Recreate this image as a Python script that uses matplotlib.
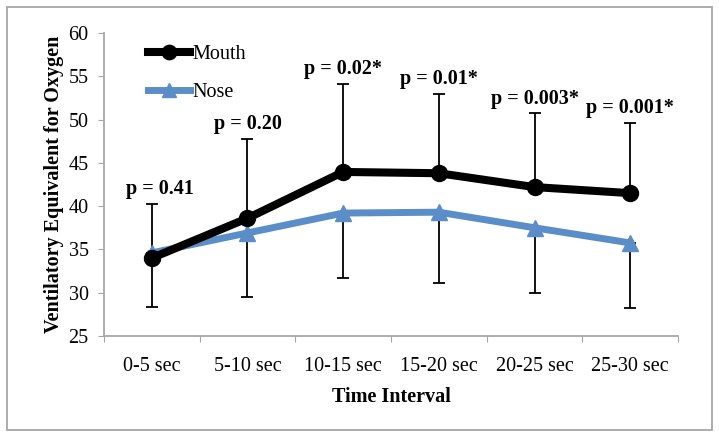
import matplotlib.pyplot as plt
import numpy as np
from matplotlib.patches import Rectangle

plt.rcParams['font.family'] = ['Liberation Serif', 'DejaVu Serif']

intervals = ['0-5 sec', '5-10 sec', '10-15 sec', '15-20 sec', '20-25 sec', '25-30 sec']
mouth = [34.0, 38.6, 43.95, 43.8, 42.2, 41.5]
mouth_upper = [40.3, 47.8, 54.1, 53.0, 50.7, 49.6]
nose = [34.6, 36.9, 39.2, 39.3, 37.5, 35.75]
nose_lower = [28.4, 29.5, 31.7, 31.1, 30.0, 28.2]
p_labels = ['p = 0.41', 'p = 0.20', 'p = 0.02*', 'p = 0.01*', 'p = 0.003*', 'p = 0.001*']

x = np.arange(len(intervals))
blue = '#5b8ec9'
grey = '#a6a6a6'
fs = 14.5

fig = plt.figure(figsize=(7.19, 4.38), dpi=100)
ax = fig.add_axes([0.1446, 0.2329, 0.943 - 0.1446, 0.9247 - 0.2329])

# error bars: mouth only upward, nose only downward
m_err = [np.zeros(len(mouth)), np.array(mouth_upper) - np.array(mouth)]
n_err = [np.array(nose) - np.array(nose_lower), np.zeros(len(nose))]
ax.errorbar(x, mouth, yerr=m_err, fmt='none', ecolor='black', elinewidth=1.3,
            capsize=4.5, capthick=1.3, zorder=1)
ax.errorbar(x, nose, yerr=n_err, fmt='none', ecolor='black', elinewidth=1.3,
            capsize=4.5, capthick=1.3, zorder=1)

ax.plot(x, mouth, color='black', lw=5.8, marker='o', ms=11.5, label='Mouth', zorder=3)
ax.plot(x, nose, color=blue, lw=5, marker='^', ms=11, label='Nose', zorder=2)

for i, lab in enumerate(p_labels):
    dx = 6 if i == 0 else 0
    ax.annotate(lab, (x[i], mouth_upper[i]), xytext=(dx, 10.5), textcoords='offset points',
                ha='center', va='center', fontsize=fs, fontweight='bold')

ax.set_xlim(-0.5, len(intervals) - 0.5)
ax.set_ylim(25, 60)
ax.set_yticks(np.arange(25, 61, 5))
ax.set_xticks(np.arange(-0.5, len(intervals), 1.0))
ax.set_xticklabels([])
ax.set_xticks(x, minor=True)
ax.set_xticklabels(intervals, minor=True, fontsize=fs)
ax.tick_params(axis='x', which='major', length=4, color=grey, direction='out')
ax.tick_params(axis='x', which='minor', length=0, pad=15)
ax.tick_params(axis='y', length=4, color=grey, pad=7, labelsize=fs)

for s in ['top', 'right']:
    ax.spines[s].set_visible(False)
for s in ['left', 'bottom']:
    ax.spines[s].set_color(grey)
    ax.spines[s].set_linewidth(1.3)

ax.set_xlabel('Time Interval', fontsize=fs, fontweight='bold', labelpad=8)
ax.set_ylabel('Ventilatory Equivalent for Oxygen', fontsize=fs, fontweight='bold', labelpad=3)

ax.legend(loc='upper left', bbox_to_anchor=(0.045, 1.02), frameon=False, fontsize=fs,
          handlelength=2.1, handletextpad=0.1, labelspacing=0.95, markerscale=0.9)

fig.add_artist(Rectangle((7 / 719, 1 - 430 / 438), 705 / 719, 423 / 438,
                         transform=fig.transFigure, fill=False, edgecolor=grey, lw=1.3))

fig.savefig('out.png', dpi=100)
